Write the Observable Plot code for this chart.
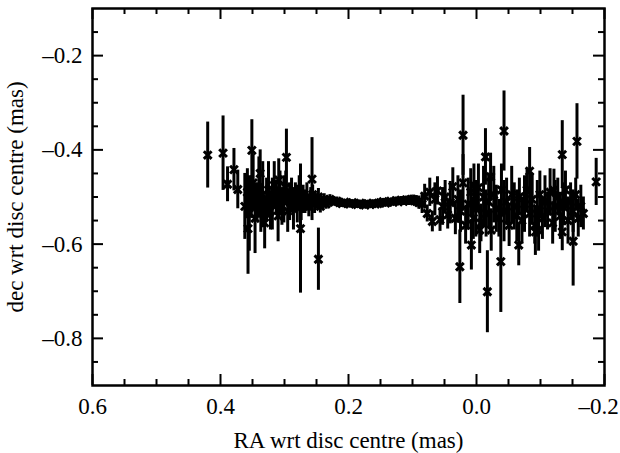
<!DOCTYPE html>
<html><head><meta charset="utf-8">
<script src="https://cdn.jsdelivr.net/npm/d3@7"></script>
<script src="https://cdn.jsdelivr.net/npm/@observablehq/plot@0.6"></script>
<style>body{margin:0;background:#fff}</style>
</head><body><div id="chart"></div>
<script>
// Isolated points (RA, dec, error) in mas
const raOut  = [0.420,0.396,0.389,0.379,0.373,0.351,0.357,0.297,0.257,0.275,0.247,
                0.021,0.026,0.008,-0.017,-0.043,-0.083,-0.038,-0.066,-0.134,-0.157,-0.187,-0.151,
                -0.022,0.004,-0.092,-0.136,-0.121,-0.014,-0.005,-0.097,-0.134,
                0.338,0.309];
const decOut = [-0.411,-0.407,-0.473,-0.442,-0.484,-0.401,-0.567,-0.416,-0.462,-0.567,-0.632,
                -0.369,-0.648,-0.602,-0.701,-0.360,-0.445,-0.637,-0.602,-0.410,-0.382,-0.468,-0.594,
                -0.457,-0.475,-0.574,-0.521,-0.486,-0.415,-0.570,-0.570,-0.574,
                -0.450,-0.464];
const errOut = [0.070,0.079,0.037,0.045,0.041,0.065,0.097,0.060,0.088,0.137,0.066,
                0.085,0.078,0.053,0.087,0.085,0.050,0.108,0.044,0.072,0.080,0.050,0.095,
                0.050,0.045,0.050,0.040,0.045,0.060,0.050,0.045,0.040,
                0.050,0.045];

// Left noisy cluster
const raL  = [0.362,0.358,0.355,0.352,0.349,0.346,0.343,0.340,0.337,0.334,0.331,0.328,0.325,0.322,0.319,
              0.316,0.313,0.310,0.307,0.304,0.301,0.298,0.295,0.292,0.289,0.286,0.283,0.280,0.277,0.274,
              0.271,0.268,0.265,0.262,0.259,0.256,0.253,0.250,0.247,0.244,0.241,0.238,0.235,0.232,0.229];
const decL = [-0.52,-0.49,-0.535,-0.50,-0.47,-0.545,-0.51,-0.48,-0.525,-0.495,-0.555,-0.505,-0.485,-0.53,-0.515,
              -0.475,-0.50,-0.54,-0.49,-0.52,-0.505,-0.48,-0.53,-0.51,-0.495,-0.525,-0.50,-0.515,-0.49,-0.52,
              -0.505,-0.51,-0.50,-0.52,-0.505,-0.495,-0.515,-0.51,-0.50,-0.52,-0.51,-0.505,-0.515,-0.51,-0.505];
const errL = [0.07,0.05,0.08,0.045,0.06,0.075,0.04,0.065,0.05,0.07,0.055,0.045,0.06,0.04,0.055,
              0.05,0.035,0.055,0.045,0.04,0.05,0.035,0.045,0.04,0.035,0.045,0.03,0.04,0.035,0.03,
              0.03,0.025,0.03,0.022,0.025,0.02,0.02,0.016,0.018,0.014,0.012,0.012,0.011,0.01,0.01];

// Middle quiet band
const raM  = [0.226,0.222,0.218,0.214,0.210,0.206,0.202,0.198,0.194,0.190,0.186,0.182,0.178,0.174,0.170,0.166,0.162,0.158,
              0.154,0.150,0.146,0.142,0.138,0.134,0.130,0.126,0.122,0.118,0.114,0.110,0.106,0.102,0.098,0.094,0.090];
const decM = [-0.508,-0.511,-0.509,-0.512,-0.514,-0.511,-0.513,-0.515,-0.512,-0.514,-0.516,-0.513,-0.515,-0.517,-0.514,-0.516,-0.513,-0.515,
              -0.514,-0.512,-0.510,-0.513,-0.511,-0.509,-0.511,-0.508,-0.510,-0.507,-0.509,-0.506,-0.508,-0.505,-0.507,-0.509,-0.512];
const errM = [0.008,0.007,0.009,0.007,0.008,0.006,0.007,0.008,0.006,0.007,0.008,0.006,0.007,0.008,0.007,0.006,0.007,0.008,
              0.007,0.006,0.007,0.008,0.007,0.006,0.007,0.008,0.007,0.008,0.009,0.008,0.010,0.009,0.011,0.012,0.014];

// Right noisy cluster
const raR  = [0.085,0.081,0.077,0.073,0.069,0.065,0.061,0.057,0.053,0.049,0.045,0.041,0.037,0.033,0.029,0.025,
              0.021,0.017,0.013,0.009,0.005,0.001,-0.003,-0.007,-0.011,-0.015,-0.019,-0.023,-0.027,-0.031,-0.035,-0.039,
              -0.043,-0.047,-0.051,-0.055,-0.059,-0.063,-0.067,-0.071,-0.075,-0.079,-0.083,-0.087,-0.091,-0.095,-0.099,-0.103,
              -0.107,-0.111,-0.115,-0.119,-0.123,-0.127,-0.131,-0.135,-0.139,-0.143,-0.147,-0.151,-0.155,-0.159,-0.163,-0.167];
const decR = [-0.515,-0.498,-0.535,-0.490,-0.552,-0.505,-0.487,-0.548,-0.520,-0.500,-0.538,-0.512,-0.478,-0.545,-0.505,-0.530,
              -0.470,-0.560,-0.515,-0.490,-0.545,-0.525,-0.480,-0.555,-0.500,-0.535,-0.510,-0.570,-0.495,-0.525,-0.545,-0.485,
              -0.530,-0.510,-0.560,-0.495,-0.520,-0.540,-0.500,-0.550,-0.515,-0.485,-0.535,-0.505,-0.560,-0.525,-0.495,-0.545,
              -0.510,-0.530,-0.490,-0.555,-0.520,-0.500,-0.540,-0.515,-0.485,-0.550,-0.510,-0.530,-0.495,-0.545,-0.520,-0.535];
const errR = [0.020,0.025,0.018,0.030,0.022,0.035,0.030,0.025,0.040,0.035,0.030,0.045,0.040,0.035,0.050,0.045,
              0.060,0.040,0.055,0.050,0.045,0.060,0.050,0.040,0.065,0.050,0.055,0.045,0.060,0.050,0.040,0.055,
              0.065,0.050,0.045,0.060,0.050,0.055,0.040,0.050,0.060,0.045,0.050,0.055,0.040,0.060,0.050,0.045,
              0.055,0.040,0.050,0.045,0.055,0.040,0.050,0.045,0.040,0.050,0.040,0.045,0.035,0.040,0.045,0.035];

// Tick values
const xTicks = [0.6, 0.4, 0.2, 0.0, -0.2];
const xLabelsMain = [0.6, 0.4, 0.2, 0.0];
const xLabelsEdge = [-0.2];
const xMinor = [0.55, 0.5, 0.45, 0.35, 0.3, 0.25, 0.15, 0.1, 0.05, -0.05, -0.1, -0.15];
const yTicks = [-0.8, -0.6, -0.4, -0.2];
const yMinor = [-0.85, -0.75, -0.7, -0.65, -0.55, -0.5, -0.45, -0.35, -0.3, -0.25, -0.15];

const build = (ra, dec, err) => ra.map((r, i) => ({ra: r, dec: dec[i], err: err[i]}));
const data = [
  ...build(raM, decM, errM),
  ...build(raL, decL, errL),
  ...build(raR, decR, errR),
  ...build(raOut, decOut, errOut)
];

const W = 620, H = 453, mL = 92, mR = 16, mT = 8, mB = 68;
const iW = W - mL - mR, iH = H - mT - mB;
const majLen = 11, minLen = 6;
const fmt = d => d3.format(".1f")(d).replace("\u2212", "\u2013");

const chart = Plot.plot({
  width: W, height: H,
  marginLeft: mL, marginRight: mR, marginTop: mT, marginBottom: mB,
  style: {fontFamily: "'Liberation Serif', 'Times New Roman', serif", fontSize: "23px", color: "black", background: "white"},
  x: {domain: [0.6, -0.2]},
  y: {domain: [-0.9, -0.1]},
  marks: [
    Plot.axisX(xLabelsMain, {tickFormat: fmt, tickSize: 0, tickPadding: 12,
      label: "RA wrt disc centre (mas)", labelAnchor: "center", labelOffset: 62, labelArrow: "none"}),
    Plot.axisX(xLabelsEdge, {tickFormat: fmt, tickSize: 0, tickPadding: 12, dx: -6, label: null}),
    Plot.axisY(yTicks, {tickFormat: fmt, tickSize: 0, tickPadding: 10,
      label: "dec wrt disc centre (mas)", labelAnchor: "center", labelOffset: 86, labelArrow: "none"}),
    Plot.ruleX(data, {x: "ra", y1: d => d.dec - d.err, y2: d => d.dec + d.err, stroke: "black", strokeWidth: 3}),
    Plot.dot(data, {x: "ra", y: "dec", symbol: "times", r: 3.6, stroke: "black", strokeWidth: 3}),
    // inward ticks on all four sides
    Plot.tickX(xTicks, {x: d => d, insetTop: iH - majLen, stroke: "black", strokeWidth: 2}),
    Plot.tickX(xTicks, {x: d => d, insetBottom: iH - majLen, stroke: "black", strokeWidth: 2}),
    Plot.tickX(xMinor, {x: d => d, insetTop: iH - minLen, stroke: "black", strokeWidth: 2}),
    Plot.tickX(xMinor, {x: d => d, insetBottom: iH - minLen, stroke: "black", strokeWidth: 2}),
    Plot.tickY(yTicks, {y: d => d, insetRight: iW - majLen, stroke: "black", strokeWidth: 2}),
    Plot.tickY(yTicks, {y: d => d, insetLeft: iW - majLen, stroke: "black", strokeWidth: 2}),
    Plot.tickY(yMinor, {y: d => d, insetRight: iW - minLen, stroke: "black", strokeWidth: 2}),
    Plot.tickY(yMinor, {y: d => d, insetLeft: iW - minLen, stroke: "black", strokeWidth: 2}),
    Plot.frame({stroke: "black", strokeWidth: 2.5})
  ]
});
document.getElementById("chart").appendChild(chart);
</script>
</body></html>
